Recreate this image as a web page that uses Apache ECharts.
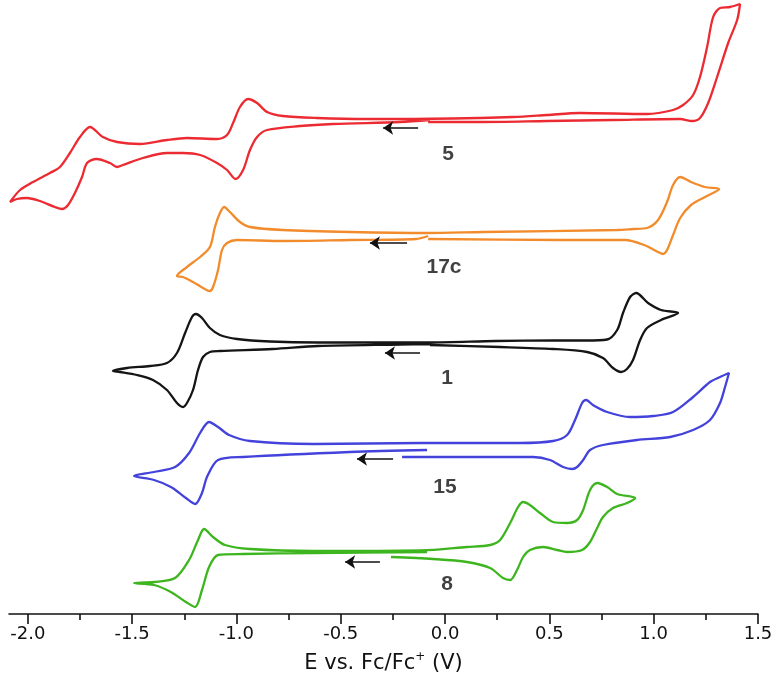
<!DOCTYPE html>
<html><head><meta charset="utf-8">
<script src="https://cdn.jsdelivr.net/npm/echarts@6/dist/echarts.min.js"></script>
<style>html,body{margin:0;padding:0;background:#fff}#c{width:776px;height:689px}</style>
</head><body><div id="c"></div>
<script>
// Potential ticks (V)
const majorTicks = [-2.0,-1.5,-1.0,-0.5,0.0,0.5,1.0,1.5];
const minorTicks = [-1.75,-1.25,-0.75,-0.25,0.25,0.75,1.25];

// Compound 5 (red) : E (V), offset current (a.u.)
const E5 = [-0.072,-0.216,-0.537,-0.695,-0.853,-0.901,-0.935,-0.968,-1.004,-1.045,-1.093,-1.174,-1.256,-1.333,-1.448,-1.544,-1.572,-1.606,-1.670,-1.716,-1.740,-1.774,-1.807,-1.836,-1.870,-1.942,-2.004,-2.052,-2.085,
 -2.037,-1.975,-1.894,-1.846,-1.798,-1.750,-1.702,-1.640,-1.572,-1.462,-1.333,-1.237,-1.093,-1.045,-1.016,-0.983,-0.944,-0.901,-0.853,-0.777,-0.614,-0.374,-0.216,0.168,0.326,0.489,0.647,0.968,1.093,1.141,1.189,1.222,1.256,1.285,1.318,1.366,1.414,
 1.400,1.357,1.304,1.261,1.222,1.184,1.127,0.805,0.489,0.168,-0.081];
const I5 = [494,492,490,488,484,477,464,444,435,444,451,459,461,461,456,449,447,451,455,451,437,421,409,405,407,413,416,415,412,
 424,432,441,447,461,477,487,477,472,470,474,476,475,479,491,507,515,511,502,498,496,495,495,496,497,499,501,500,504,509,519,537,567,597,606,607,610,
 594,571,537,511,496,493,495,494,493,492,492];

// Compound 17c (orange)
const E17 = [-0.081,-0.139,-0.455,-0.777,-0.997,-1.045,-1.069,-1.088,-1.112,-1.127,-1.160,-1.208,-1.256,-1.285,
 -1.237,-1.174,-1.127,-1.103,-1.079,-1.059,-1.031,-0.983,-0.935,-0.777,-0.455,-0.086,0.182,0.825,0.901,0.968,1.021,1.064,1.093,1.127,1.179,1.246,1.314,
 1.246,1.179,1.127,1.093,1.064,1.045,1.021,0.954,0.863,0.551,-0.081];
const I17 = [378,375,374,373,374,371,364,344,327,323,326,332,337,338,
 347,357,367,387,401,407,402,392,387,384,382,381,382,384,385,386,394,412,429,437,432,427,425,
 417,409,396,379,364,360,362,369,374,374,375];

// Compound 1 (black)
const E1 = [-0.072,-0.216,-0.609,-0.825,-1.079,-1.127,-1.160,-1.184,-1.208,-1.237,-1.256,-1.285,-1.333,-1.400,-1.477,-1.558,-1.592,
 -1.524,-1.414,-1.333,-1.285,-1.246,-1.213,-1.194,-1.165,-1.127,-1.079,-0.997,-0.839,-0.609,-0.072,0.244,0.518,0.676,0.777,0.825,0.853,0.887,0.916,0.973,1.035,1.117,
 1.035,0.968,0.935,0.901,0.872,0.844,0.805,0.757,0.681,0.518,0.264,-0.072];
const I1 = [270,269.5,268,265,263,262,257,244,224,211,207,211,224,234,239,242,243,
 246,248,251,261,281,297,300,296,286,279,275,272.5,271.5,271.5,273,273.5,273.5,274.5,284,301,317,321,311,304,301,
 294,286,274,254,245,242,246,256,262,265,267,269];

// Compound 15 (blue)
const E15 = [-0.086,-0.455,-0.968,-1.088,-1.141,-1.165,-1.198,-1.242,-1.314,-1.395,-1.491,
 -1.395,-1.294,-1.227,-1.174,-1.131,-1.088,-1.035,-0.935,-0.628,-0.115,0.360,0.518,0.585,0.623,0.657,0.676,0.709,0.777,0.887,0.997,1.093,1.189,1.270,1.318,1.361,
 1.342,1.318,1.270,1.189,1.079,0.920,0.757,0.695,0.662,0.633,0.609,0.566,0.503,0.422,0.360,-0.115,-0.206];
const I15 = [164,162,157,154,137,121,110,116,127,134,138,
 142,147,161,181,192,187,179,173,170,171,171,173,179,194,211,214,209,202,197,198,202,217,232,237,241,
 227,211,194,184,177,174,169,164,154,147,145,147,154,157,157,157,157];

// Compound 8 (green)
const E8 = [-0.086,-0.628,-0.968,-1.088,-1.131,-1.165,-1.198,-1.242,-1.314,-1.395,-1.491,
 -1.395,-1.294,-1.227,-1.184,-1.155,-1.112,-1.055,-0.935,-0.628,-0.115,0.105,0.216,0.264,0.312,0.350,0.374,0.407,0.455,0.518,0.585,0.633,0.662,0.695,0.729,0.777,0.825,0.911,
 0.872,0.805,0.757,0.729,0.695,0.657,0.585,0.537,0.470,0.407,0.374,0.345,0.312,0.278,0.216,0.105,-0.058,-0.259];
const I8 = [62,61,60,59,47,24,7,12,22,29,31,
 32,36,54,74,85,77,69,65,63,63.5,67,69,74,91,107,112,109,101,92,91,94,104,124,131,127,120,116,
 111,106,97,86,72,64,62,64,67,64,57,44,34,36,46,52,55,57];

// Scan-direction arrows (from E, to E, level) and compound labels
const arrowFrom = [-0.129,-0.182,-0.120,-0.249,-0.312];
const arrowTo   = [-0.297,-0.360,-0.288,-0.422,-0.479];
const arrowI    = [486,371,261,155,52];
const labelNames = ['5','17c','1','15','8'];
const labelE = [0.014,-0.005,0.010,0.000,0.010];
const labelI = [460,346.5,236,127,30];

const traces = [
  {E:E5, I:I5, color:'#ec2a31'},
  {E:E17, I:I17, color:'#f28b2c'},
  {E:E1, I:I1, color:'#151515'},
  {E:E15, I:I15, color:'#4343dc'},
  {E:E8, I:I8, color:'#3db51e'}
];
const FONT = 'Liberation Sans, Arial, sans-serif';
const AXFONT = 'DejaVu Sans, sans-serif';

const series = traces.map((t, k) => ({
  type:'line',
  data:t.E.map((e,j)=>[e,t.I[j]]),
  smooth:0.3,
  showSymbol:false,
  symbol:'none',
  lineStyle:{width:2.3,color:t.color},
  z:2,
  markLine:{
    silent:true,
    symbol:['none','arrow'],
    symbolSize:10,
    label:{show:false},
    lineStyle:{color:'#111',width:1.7,type:'solid'},
    data:[[{coord:[arrowFrom[k],arrowI[k]]},{coord:[arrowTo[k],arrowI[k]]}]]
  }
}));
series.push({
  type:'scatter',
  data:labelNames.map((n,k)=>[labelE[k],labelI[k],n]),
  symbolSize:1,
  itemStyle:{color:'rgba(0,0,0,0)'},
  label:{show:true,position:'inside',formatter:p=>p.data[2],fontSize:21,fontWeight:'bold',color:'#111',fontFamily:FONT},
  z:3
});

const chart = echarts.init(document.getElementById('c'));
chart.setOption({
  animation:false,
  backgroundColor:'#fff',
  grid:{left:9,right:18,top:0,bottom:75},
  xAxis:[{
    type:'value',min:-2.09,max:1.5,position:'bottom',
    axisLine:{show:true,onZero:false,lineStyle:{color:'#111',width:1.6}},
    axisTick:{show:true,customValues:majorTicks,length:10,lineStyle:{color:'#111',width:1.6}},
    axisLabel:{customValues:majorTicks,formatter:v=>v.toFixed(1),fontSize:18,color:'#111',margin:11,fontFamily:AXFONT},
    splitLine:{show:false},
    name:'E vs. Fc/Fc{sup|+} (V)',nameLocation:'middle',nameGap:37,
    nameTextStyle:{fontSize:21,color:'#111',fontFamily:AXFONT,lineHeight:25,rich:{sup:{fontSize:12,verticalAlign:'top',lineHeight:25,fontFamily:AXFONT,color:'#111'}}}
  },{
    type:'value',min:-2.09,max:1.5,position:'bottom',gridIndex:0,
    axisLine:{show:false,onZero:false},
    axisTick:{show:true,customValues:minorTicks,length:6,lineStyle:{color:'#111',width:1.6}},
    axisLabel:{show:false},
    splitLine:{show:false}
  }],
  yAxis:{type:'value',min:0,max:614,show:false},
  series
});
</script></body></html>
